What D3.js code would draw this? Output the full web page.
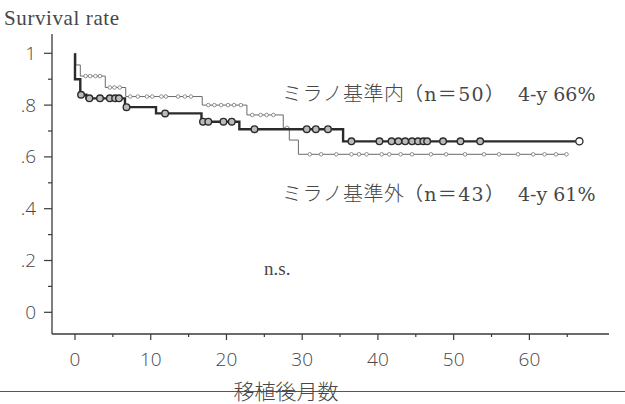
<!DOCTYPE html>
<html>
<head>
<meta charset="utf-8">
<script src="https://cdn.jsdelivr.net/npm/d3@7"></script>
<style>
  html, body { margin: 0; padding: 0; background: #fff; }
  svg { display: block; }
</style>
</head>
<body>
<svg id="chart" width="625" height="404"></svg>
<script>
// Kaplan–Meier survival after transplant, Milan criteria in / out

// Inside Milan criteria (n=50): step times (months) and survival after each step
const inTimes  = [0, 0.7, 1.5, 6.6, 10.7, 16.7, 21.7, 35.4];
const inSurv   = [0.90, 0.84, 0.826, 0.792, 0.768, 0.736, 0.707, 0.66];
const inEnd    = 66.6;
const inCensor = [0.8, 1.9, 3.3, 4.6, 5.3, 5.8, 6.8, 11.9, 16.9, 17.6, 19.6, 20.7,
                  23.7, 30.6, 31.8, 33.4, 36.5, 40.2, 41.8, 42.7, 43.6, 44.5,
                  45.3, 46.0, 46.5, 48.6, 50.9, 53.5];

// Outside Milan criteria (n=43)
const outTimes  = [0.1, 0.7, 4.0, 6.7, 16.8, 22.7, 27.5, 28.3, 29.5];
const outSurv   = [0.955, 0.912, 0.868, 0.833, 0.80, 0.762, 0.712, 0.665, 0.61];
const outEnd    = 64.9;
const outCensor = [1.4, 2.0, 2.7, 3.3, 4.6, 5.2, 5.9, 7.3, 8.3, 9.5, 10.2, 11.4,
                   12.0, 13.6, 14.5, 15.3, 17.6, 18.4, 19.3, 20.2, 21.0, 21.9,
                   23.4, 24.5, 25.3, 26.2, 28.0, 31.0, 32.5, 34.5, 36.5, 37.5,
                   38.5, 40.5, 41.5, 43.0, 44.5, 47.0, 49.0, 51.5, 54.0, 56.0,
                   58.5, 60.5, 62.0, 63.5, 64.9];

const yTicks = [0, 0.2, 0.4, 0.6, 0.8, 1];
const yTickLabels = ["0", ".2", ".4", ".6", ".8", "1"];
const yMinor = [0.1, 0.3, 0.5, 0.7, 0.9];
const xTicks = [0, 10, 20, 30, 40, 50, 60];
const xMinor = [5, 15, 25, 35, 45, 55, 65];

const yTitle = "Survival rate";
const xTitle = "移植後月数";
// group label pieces: name, count, four-year survival
const groupNames = ["ミラノ基準内", "ミラノ基準外"];
const groupCounts = ["（n＝50）", "（n＝43）"];
const groupFourYear = ["4-y 66%", "4-y 61%"];
const pLabel = "n.s.";

const svg = d3.select("#chart");
const ink = "#3a3a3a";
const textInk = "#474747";

const x = d3.scaleLinear().domain([0, 60]).range([75, 529.4]);
const y = d3.scaleLinear().domain([0, 1]).range([312.3, 53.3]);

const axisLeft = 52, axisBottom = 334;

// Axes lines
svg.append("line").attr("x1", axisLeft).attr("x2", axisLeft)
  .attr("y1", 34).attr("y2", axisBottom).attr("stroke", ink).attr("stroke-width", 1.3);
svg.append("line").attr("x1", axisLeft).attr("x2", 609)
  .attr("y1", axisBottom).attr("y2", axisBottom).attr("stroke", ink).attr("stroke-width", 1.3);

// Y ticks
const yAx = svg.append("g");
yAx.selectAll("line.maj").data(yTicks).join("line")
  .attr("x1", axisLeft - 8).attr("x2", axisLeft)
  .attr("y1", d => y(d)).attr("y2", d => y(d))
  .attr("stroke", ink).attr("stroke-width", 1.2);
yAx.selectAll("line.min").data(yMinor).join("line")
  .attr("x1", axisLeft - 4).attr("x2", axisLeft)
  .attr("y1", d => y(d)).attr("y2", d => y(d))
  .attr("stroke", ink).attr("stroke-width", 1.2);
yAx.selectAll("text").data(yTicks).join("text")
  .attr("x", 36).attr("y", d => y(d) + 6.5)
  .attr("text-anchor", "end")
  .attr("font-family", "'Open Sans', 'Noto Sans', sans-serif")
  .attr("font-weight", 300)
  .attr("font-size", 19).attr("fill", textInk)
  .text((d, i) => yTickLabels[i]);

// X ticks
const xAx = svg.append("g");
xAx.selectAll("line.maj").data(xTicks).join("line")
  .attr("x1", d => x(d)).attr("x2", d => x(d))
  .attr("y1", axisBottom).attr("y2", axisBottom + 6)
  .attr("stroke", ink).attr("stroke-width", 1.2);
xAx.selectAll("line.min").data(xMinor).join("line")
  .attr("x1", d => x(d)).attr("x2", d => x(d))
  .attr("y1", axisBottom).attr("y2", axisBottom + 3)
  .attr("stroke", ink).attr("stroke-width", 1.2);
xAx.selectAll("text").data(xTicks).join("text")
  .attr("x", d => x(d)).attr("y", 366)
  .attr("text-anchor", "middle")
  .attr("font-family", "'Open Sans', 'Noto Sans', sans-serif")
  .attr("font-weight", 300)
  .attr("font-size", 19).attr("fill", textInk)
  .text(d => d);

// Titles
svg.append("text").attr("x", 4).attr("y", 25)
  .attr("font-family", "'Liberation Serif', 'DejaVu Serif', serif")
  .attr("font-size", 21).attr("letter-spacing", 0.6)
  .attr("fill", textInk).text(yTitle);

svg.append("line").attr("x1", 0).attr("x2", 625).attr("y1", 391.5).attr("y2", 391.5)
  .attr("stroke", "#555").attr("stroke-width", 1.1);
svg.append("text").attr("x", 286).attr("y", 399)
  .attr("text-anchor", "middle")
  .attr("font-family", "'Noto Sans CJK JP', sans-serif")
  .attr("font-weight", 300)
  .attr("font-size", 21).attr("fill", textInk).text(xTitle);

// Step path builder for a survival curve
function stepPoints(times, surv, end) {
  const pts = [[0, 1]];
  let cur = 1;
  times.forEach((t, i) => { pts.push([t, cur]); pts.push([t, surv[i]]); cur = surv[i]; });
  pts.push([end, cur]);
  return pts;
}
function survAt(times, surv, t) {
  let v = 1;
  times.forEach((tt, i) => { if (t >= tt) v = surv[i]; });
  return v;
}
const line = d3.line().x(d => x(d[0])).y(d => y(d[1]));

// Outside criteria: thin grey line with small censor marks
svg.append("path").datum(stepPoints(outTimes, outSurv, outEnd))
  .attr("d", line).attr("fill", "none")
  .attr("stroke", "#6a6a6a").attr("stroke-width", 1);
svg.append("g").selectAll("circle").data(outCensor).join("circle")
  .attr("cx", d => x(d)).attr("cy", d => y(survAt(outTimes, outSurv, d)))
  .attr("r", 1.8).attr("fill", "#fff")
  .attr("stroke", "#777").attr("stroke-width", 0.8);

// Inside criteria: heavy dark line with ring censor marks
svg.append("path").datum(stepPoints(inTimes, inSurv, inEnd))
  .attr("d", line).attr("fill", "none")
  .attr("stroke", "#2b2b2b").attr("stroke-width", 2.4);
svg.append("g").selectAll("circle").data(inCensor).join("circle")
  .attr("cx", d => x(d)).attr("cy", d => y(survAt(inTimes, inSurv, d)))
  .attr("r", 3.3).attr("fill", "#bbb")
  .attr("stroke", "#2b2b2b").attr("stroke-width", 1.4);
svg.append("circle")
  .attr("cx", x(inEnd)).attr("cy", y(survAt(inTimes, inSurv, inEnd)))
  .attr("r", 3.6).attr("fill", "#fff")
  .attr("stroke", "#2b2b2b").attr("stroke-width", 1.3);

// Group labels and test result
const labelRows = [101, 201];
labelRows.forEach((baseline, i) => {
  const g = svg.append("g").attr("fill", textInk);
  g.append("text").attr("x", 282).attr("y", baseline)
    .attr("font-family", "'Noto Sans CJK JP', sans-serif").attr("font-weight", 300)
    .attr("font-size", 20).attr("textLength", 122).attr("lengthAdjust", "spacing")
    .text(groupNames[i]);
  g.append("text").attr("x", 404).attr("y", baseline)
    .attr("font-family", "'DejaVu Serif', 'Noto Sans CJK JP', serif")
    .attr("font-size", 19).attr("textLength", 100).attr("lengthAdjust", "spacing")
    .text(groupCounts[i]);
  g.append("text").attr("x", 518).attr("y", baseline)
    .attr("font-family", "'DejaVu Serif', serif")
    .attr("font-size", 19)
    .text(groupFourYear[i]);
});
svg.append("text").attr("x", 264).attr("y", 275)
  .attr("font-family", "'Liberation Serif', serif").attr("font-size", 19)
  .attr("fill", textInk).text(pLabel);
</script>
</body>
</html>
